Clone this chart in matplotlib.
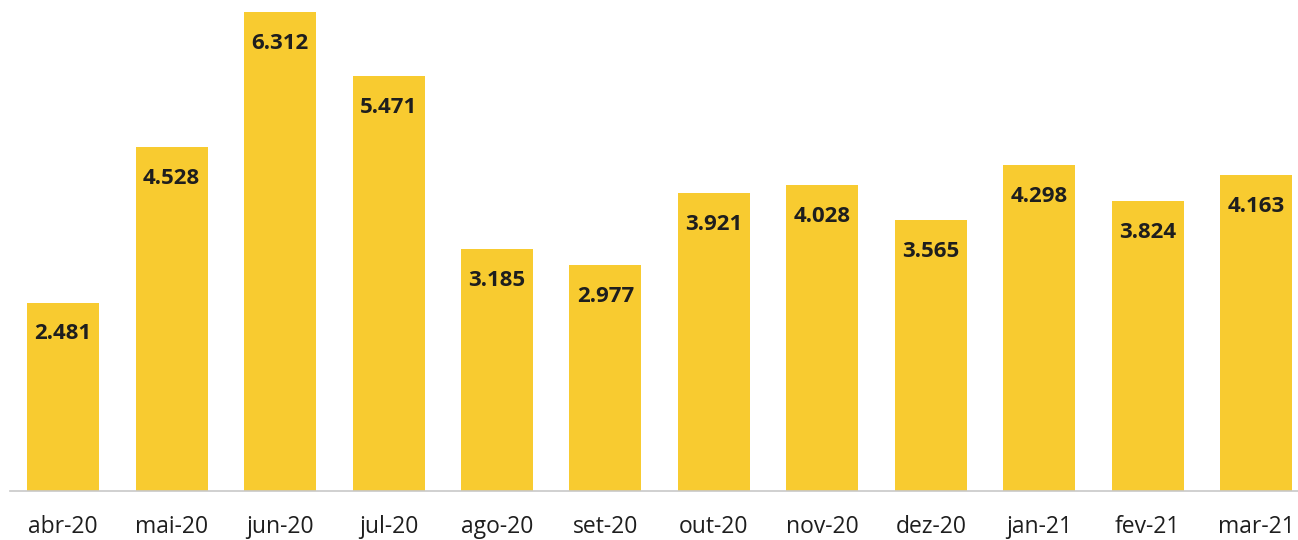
import matplotlib
matplotlib.use('Agg')
import matplotlib.pyplot as plt

months = ['abr-20', 'mai-20', 'jun-20', 'jul-20', 'ago-20', 'set-20',
          'out-20', 'nov-20', 'dez-20', 'jan-21', 'fev-21', 'mar-21']
values = [2.481, 4.528, 6.312, 5.471, 3.185, 2.977,
          3.921, 4.028, 3.565, 4.298, 3.824, 4.163]

BAR_COLOR = '#F8CB30'
TEXT_COLOR = '#1E1E1E'

plt.rcParams['font.family'] = ['Open Sans', 'DejaVu Sans']

fig = plt.figure(figsize=(12.98, 5.4), dpi=100)
# baseline at y=491px, tallest bar top at y=12px
ax = fig.add_axes([10/1298, 49/540, 1288/1298, 479/540])

x = range(len(months))
bars = ax.bar(x, values, width=0.664, color=BAR_COLOR, edgecolor='none')

for xi, v in zip(x, values):
    ax.annotate(f'{v:.3f}', xy=(xi, v), xytext=(0, -22.5), textcoords='offset points',
                ha='center', va='center', fontsize=16, fontweight='bold',
                color=TEXT_COLOR, annotation_clip=False)

ax.set_xlim(-0.49, 11.385)
ax.set_ylim(0, max(values))
ax.set_xticks(list(x))
ax.set_xticklabels(months, fontsize=16.5, color=TEXT_COLOR)
ax.tick_params(axis='x', length=0, pad=17)
ax.set_yticks([])
for s in ['top', 'right', 'left']:
    ax.spines[s].set_visible(False)
ax.spines['bottom'].set_color('#C8C8C8')
ax.spines['bottom'].set_linewidth(1.2)

fig.savefig('out.png', dpi=100)
